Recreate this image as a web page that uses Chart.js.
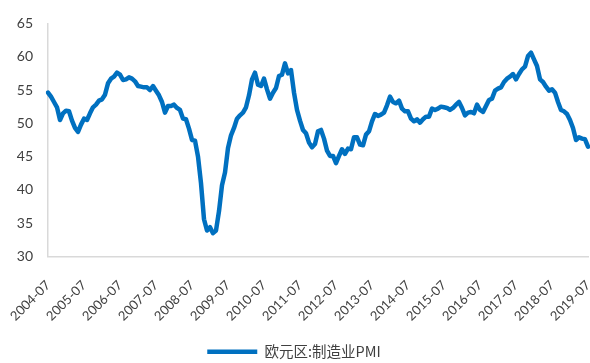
<!DOCTYPE html>
<html>
<head>
<meta charset="utf-8">
<script src="https://cdn.jsdelivr.net/npm/chart.js@4/dist/chart.umd.min.js"></script>
<style>
  html, body { margin: 0; padding: 0; background: #fff; }
  #wrap { width: 590px; height: 363px; }
</style>
</head>
<body>
<div id="wrap"><canvas id="pmi-chart"></canvas></div>
<script>
// 欧元区制造业PMI, 2004-07 ~ 2019-07 (monthly)
const firstYear = 2004;
const firstMonth = 7;
const seriesName = "欧元区:制造业PMI";

const pmiValues = [
  54.6, 54.0, 53.2, 52.4, 50.5, 51.5,                               // 2004 H2
  51.9, 51.8, 50.4, 49.3, 48.7, 49.8, 50.7, 50.5, 51.5, 52.4, 52.8, 53.4, // 2005
  53.6, 54.3, 56.0, 56.7, 57.0, 57.6, 57.3, 56.5, 56.6, 56.9, 56.7, 56.3, // 2006
  55.6, 55.5, 55.4, 55.4, 55.0, 55.6, 54.9, 54.2, 53.2, 51.6, 52.6, 52.6, // 2007
  52.8, 52.3, 52.0, 50.7, 50.6, 49.2, 47.5, 47.4, 45.0, 41.0, 35.6, 33.9, // 2008
  34.4, 33.5, 33.9, 36.8, 40.7, 42.6, 46.3, 48.2, 49.3, 50.7, 51.2, 51.6, // 2009
  52.4, 54.2, 56.6, 57.6, 55.8, 55.6, 56.7, 55.1, 53.7, 54.6, 55.3, 57.1, // 2010
  57.3, 59.0, 57.5, 58.0, 54.6, 52.0, 50.4, 49.0, 48.5, 47.1, 46.4, 46.9, // 2011
  48.8, 49.0, 47.7, 45.9, 45.1, 45.1, 44.0, 45.1, 46.1, 45.4, 46.2, 46.1, // 2012
  47.9, 47.9, 46.8, 46.7, 48.3, 48.8, 50.3, 51.4, 51.1, 51.3, 51.6, 52.7, // 2013
  54.0, 53.2, 53.0, 53.4, 52.2, 51.8, 51.8, 50.7, 50.3, 50.6, 50.1, 50.6, // 2014
  51.0, 51.0, 52.2, 52.0, 52.2, 52.5, 52.4, 52.3, 52.0, 52.3, 52.8, 53.2, // 2015
  52.3, 51.2, 51.6, 51.7, 51.5, 52.8, 52.0, 51.7, 52.6, 53.5, 53.7, 54.9, // 2016
  55.2, 55.4, 56.2, 56.7, 57.0, 57.4, 56.6, 57.4, 58.1, 58.5, 60.1, 60.6, // 2017
  59.6, 58.6, 56.6, 56.2, 55.5, 54.9, 55.1, 54.6, 53.2, 52.0, 51.8, 51.4, // 2018
  50.5, 49.3, 47.5, 47.9, 47.7, 47.6, 46.5                          // 2019 H1+Jul
];

// month labels "YYYY-MM"
const monthLabels = pmiValues.map((_, i) => {
  const m = firstMonth - 1 + i;
  const y = firstYear + Math.floor(m / 12);
  return y + "-" + String((m % 12) + 1).padStart(2, "0");
});

const BLUE = "#0070C0";
const AXIS_GRAY = "#D9D9D9";
const TEXT = "#404040";

new Chart(document.getElementById("pmi-chart"), {
  type: "line",
  data: {
    labels: monthLabels,
    datasets: [
      {
        label: seriesName,
        data: pmiValues,
        borderColor: BLUE,
        backgroundColor: BLUE,
        borderWidth: 4.5,
        borderCapStyle: "round",
        borderJoinStyle: "round",
        pointRadius: 0,
        tension: 0,
        fill: false,
      },
    ],
  },
  options: {
    responsive: true,
    maintainAspectRatio: false,
    animation: false,
    layout: { padding: { top: 22, right: 2, left: 0, bottom: -6 } },
    plugins: {
      tooltip: { enabled: false },
      legend: {
        position: "bottom",
        labels: {
          usePointStyle: true,
          pointStyle: "line",
          pointStyleWidth: 50,
          boxHeight: 5,
          padding: 3,
          color: TEXT,
          font: { family: "'Noto Sans CJK SC', sans-serif", size: 14.5 },
        },
      },
    },
    scales: {
      x: {
        grid: { display: false, drawTicks: false },
        border: { color: AXIS_GRAY, width: 1.5 },
        ticks: {
          autoSkip: false,
          maxRotation: 45,
          minRotation: 45,
          padding: 21,
          color: TEXT,
          font: { family: "Lato, sans-serif", size: 13 },
          callback: function (value, index) {
            return index % 12 === 0 ? this.getLabelForValue(value) : "";
          },
        },
        afterFit: (scale) => {
          scale.height = 85;
          scale.paddingRight = 0;
          scale.paddingLeft = 0;
        },
      },
      y: {
        min: 30,
        max: 65,
        grid: { display: false, drawTicks: false },
        border: { color: AXIS_GRAY, width: 1.5 },
        ticks: {
          stepSize: 5,
          padding: 15,
          color: TEXT,
          font: { family: "Lato, sans-serif", size: 14 },
        },
        afterFit: (scale) => { scale.width = 48; },
      },
    },
  },
});
</script>
</body>
</html>
